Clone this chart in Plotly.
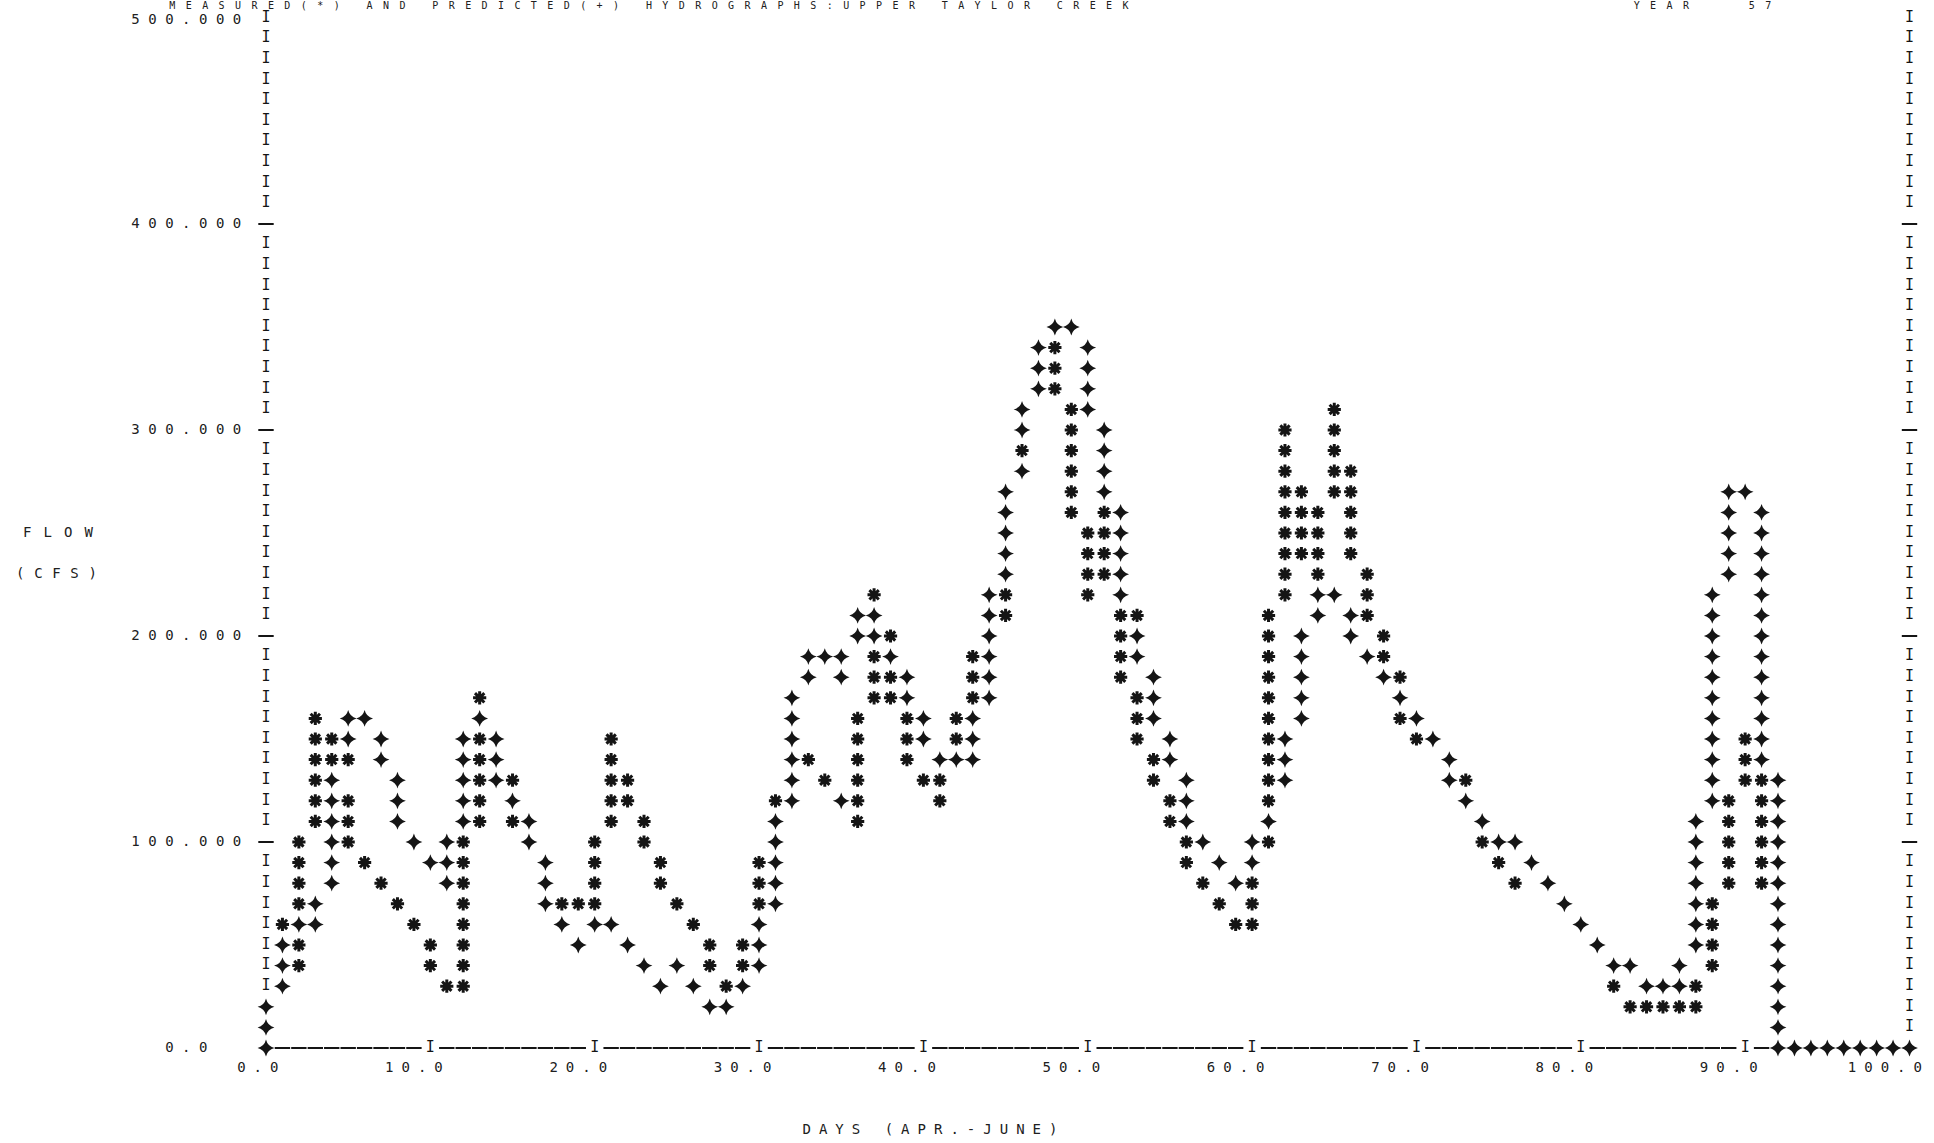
import plotly.graph_objects as go

# Line-printer hydrograph: each day owns one print column, each print row is 10 cfs.
# For every day, the flows (cfs) at which a character was printed.

DAYS = list(range(0, 101))

MEASURED_CFS = [
    [],                                            # 0
    [60],                                          # 1
    [40, 50, 70, 80, 90, 100],                     # 2
    [110, 120, 130, 140, 150, 160],                # 3
    [140, 150],                                    # 4
    [100, 110, 120, 140],                          # 5
    [90],                                          # 6
    [80],                                          # 7
    [70],                                          # 8
    [60],                                          # 9
    [40, 50],                                      # 10
    [30],                                          # 11
    [30, 40, 50, 60, 70, 80, 90, 100],             # 12
    [110, 120, 130, 140, 150, 170],                # 13
    [],                                            # 14
    [110, 130],                                    # 15
    [],                                            # 16
    [],                                            # 17
    [70],                                          # 18
    [70],                                          # 19
    [70, 80, 90, 100],                             # 20
    [110, 120, 130, 140, 150],                     # 21
    [120, 130],                                    # 22
    [100, 110],                                    # 23
    [80, 90],                                      # 24
    [70],                                          # 25
    [60],                                          # 26
    [40, 50],                                      # 27
    [30],                                          # 28
    [40, 50],                                      # 29
    [70, 80, 90],                                  # 30
    [120],                                         # 31
    [],                                            # 32
    [140],                                         # 33
    [130],                                         # 34
    [],                                            # 35
    [110, 120, 130, 140, 150, 160],                # 36
    [170, 180, 190, 220],                          # 37
    [170, 180, 200],                               # 38
    [140, 150, 160],                               # 39
    [130],                                         # 40
    [120, 130],                                    # 41
    [150, 160],                                    # 42
    [170, 180, 190],                               # 43
    [],                                            # 44
    [210, 220],                                    # 45
    [290],                                         # 46
    [],                                            # 47
    [320, 330, 340],                               # 48
    [260, 270, 280, 290, 300, 310],                # 49
    [220, 230, 240, 250],                          # 50
    [230, 240, 250, 260],                          # 51
    [180, 190, 200, 210],                          # 52
    [150, 160, 170, 210],                          # 53
    [130, 140],                                    # 54
    [110, 120],                                    # 55
    [90, 100],                                     # 56
    [80],                                          # 57
    [70],                                          # 58
    [60],                                          # 59
    [60, 70, 80],                                  # 60
    [100, 120, 130, 140, 150, 160, 170, 180, 190, 200, 210],  # 61
    [220, 230, 240, 250, 260, 270, 280, 290, 300], # 62
    [240, 250, 260, 270],                          # 63
    [230, 240, 250, 260],                          # 64
    [270, 280, 290, 300, 310],                     # 65
    [240, 250, 260, 270, 280],                     # 66
    [210, 220, 230],                               # 67
    [190, 200],                                    # 68
    [160, 180],                                    # 69
    [150],                                         # 70
    [],                                            # 71
    [],                                            # 72
    [130],                                         # 73
    [100],                                         # 74
    [90],                                          # 75
    [80],                                          # 76
    [], [], [], [], [],                            # 77-81
    [30],                                          # 82
    [20],                                          # 83
    [20],                                          # 84
    [20],                                          # 85
    [20],                                          # 86
    [20, 30],                                      # 87
    [40, 50, 60, 70],                              # 88
    [80, 90, 100, 110, 120],                       # 89
    [130, 140, 150],                               # 90
    [80, 90, 100, 110, 120, 130],                  # 91
    [], [], [], [], [], [], [], [], [],            # 92-100
]

PREDICTED_CFS = [
    [10, 20],                                      # 0
    [30, 40, 50],                                  # 1
    [60],                                          # 2
    [60, 70],                                      # 3
    [80, 90, 100, 110, 120, 130],                  # 4
    [150, 160],                                    # 5
    [160],                                         # 6
    [140, 150],                                    # 7
    [110, 120, 130],                               # 8
    [100],                                         # 9
    [90],                                          # 10
    [80, 90, 100],                                 # 11
    [110, 120, 130, 140, 150],                     # 12
    [160],                                         # 13
    [130, 140, 150],                               # 14
    [120],                                         # 15
    [100, 110],                                    # 16
    [70, 80, 90],                                  # 17
    [60],                                          # 18
    [50],                                          # 19
    [60],                                          # 20
    [60],                                          # 21
    [50],                                          # 22
    [40],                                          # 23
    [30],                                          # 24
    [40],                                          # 25
    [30],                                          # 26
    [20],                                          # 27
    [20],                                          # 28
    [30],                                          # 29
    [40, 50, 60],                                  # 30
    [70, 80, 90, 100, 110],                        # 31
    [120, 130, 140, 150, 160, 170],                # 32
    [180, 190],                                    # 33
    [190],                                         # 34
    [120, 180, 190],                               # 35
    [200, 210],                                    # 36
    [200, 210],                                    # 37
    [190],                                         # 38
    [170, 180],                                    # 39
    [150, 160],                                    # 40
    [140],                                         # 41
    [140],                                         # 42
    [140, 150, 160],                               # 43
    [170, 180, 190, 200, 210, 220],                # 44
    [230, 240, 250, 260, 270],                     # 45
    [280, 300, 310],                               # 46
    [320, 330, 340],                               # 47
    [350],                                         # 48
    [350],                                         # 49
    [310, 320, 330, 340],                          # 50
    [270, 280, 290, 300],                          # 51
    [220, 230, 240, 250, 260],                     # 52
    [190, 200],                                    # 53
    [160, 170, 180],                               # 54
    [140, 150],                                    # 55
    [110, 120, 130],                               # 56
    [100],                                         # 57
    [90],                                          # 58
    [80],                                          # 59
    [90, 100],                                     # 60
    [110],                                         # 61
    [130, 140, 150],                               # 62
    [160, 170, 180, 190, 200],                     # 63
    [210, 220],                                    # 64
    [220],                                         # 65
    [200, 210],                                    # 66
    [190],                                         # 67
    [180],                                         # 68
    [170],                                         # 69
    [160],                                         # 70
    [150],                                         # 71
    [130, 140],                                    # 72
    [120],                                         # 73
    [110],                                         # 74
    [100],                                         # 75
    [100],                                         # 76
    [90],                                          # 77
    [80],                                          # 78
    [70],                                          # 79
    [60],                                          # 80
    [50],                                          # 81
    [40],                                          # 82
    [40],                                          # 83
    [30],                                          # 84
    [30],                                          # 85
    [30, 40],                                      # 86
    [50, 60, 70, 80, 90, 100, 110],                # 87
    [120, 130, 140, 150, 160, 170, 180, 190, 200, 210, 220],  # 88
    [230, 240, 250, 260, 270],                     # 89
    [270],                                         # 90
    [140, 150, 160, 170, 180, 190, 200, 210, 220, 230, 240, 250, 260],  # 91
    [0, 10, 20, 30, 40, 50, 60, 70, 80, 90, 100, 110, 120, 130],        # 92
    [0], [0], [0], [0], [0], [0], [0], [0],        # 93-100
]

X_TICKS = [0, 10, 20, 30, 40, 50, 60, 70, 80, 90, 100]
X_TICK_LABELS = ["0.0", "10.0", "20.0", "30.0", "40.0", "50.0",
                 "60.0", "70.0", "80.0", "90.0", "100.0"]
Y_TICKS = [0, 100, 200, 300, 400, 500]
Y_TICK_LABELS = ["0.0", "100.000", "200.000", "300.000", "400.000", "500.000"]

TITLE = "MEASURED(*) AND PREDICTED(+) HYDROGRAPHS:UPPER TAYLOR CREEK"
YEAR_TEXT = "YEAR   57"
Y_NAME = ["FLOW", "(CFS)"]
X_NAME = "DAYS (APR.-JUNE)"

INK = "#151515"
ROW = 10  # cfs per print row

# Page geometry of the print grid (pixels)
X0_PX, COL_PX = 266.0, 16.435   # day 0 column, width of one column
Y0_PX, ROW_PX = 1048.0, 20.6    # zero-flow row, height of one 10-cfs row
W_PX, H_PX = 1934, 1143
MONO = "DejaVu Sans Mono"
PX_TO_FLOW = ROW / ROW_PX


def explode(columns):
    xs, ys = [], []
    for day, flows in zip(DAYS, columns):
        for f in flows:
            xs.append(day)
            ys.append(f)
    return xs, ys


mx, my = explode(MEASURED_CFS)
px, py = explode(PREDICTED_CFS)
occupied = set(zip(mx, my)) | set(zip(px, py))

# Printed frame: 'I' columns left and right, dashes along the zero row
frame_i_x, frame_i_y = [], []
frame_dash_x, frame_dash_y = [], []
for col in (0, 100):
    for flow in range(ROW, 500 + ROW, ROW):
        if (col, flow) in occupied:
            continue
        if flow in (100, 200, 300, 400):
            frame_dash_x.append(col)
            frame_dash_y.append(flow)
        else:
            frame_i_x.append(col)
            frame_i_y.append(flow)
for day in range(1, 100):
    if (day, 0) in occupied:
        continue
    if day % 10 == 0:
        frame_i_x.append(day)
        frame_i_y.append(0)
    else:
        frame_dash_x.append(day)
        frame_dash_y.append(0)


# Text is laid out on the same character grid (one column per day, one row per 10 cfs)
def put(store, text, center_col, row_flow, step=1.0):
    start = center_col - step * (len(text) - 1) / 2.0
    for i, ch in enumerate(text):
        if ch != " ":
            store[0].append(start + step * i)
            store[1].append(row_flow)
            store[2].append(ch)


labels = ([], [], [])
for v, lab in zip(Y_TICKS, Y_TICK_LABELS):
    # the top label sits a touch low to leave room for the header line
    row = v - 2.5 * PX_TO_FLOW if v == 500 else v
    put(labels, lab, -4.85, row, step=1.03)
for d, lab in zip(X_TICKS, X_TICK_LABELS):
    put(labels, lab, d + 0.5 - (len(lab) - 1) / 2.0, -10)
put(labels, Y_NAME[0], -12.66, 250, step=1.25)
put(labels, Y_NAME[1], -12.75, 230, step=1.1)
put(labels, X_NAME, 40.4, -40)

# Header line across the top edge of the page
header = ([], [], [])
header_row = (Y0_PX - 6.5) * PX_TO_FLOW
put(header, TITLE, 23.3, header_row)
put(header, YEAR_TEXT, 87.4, header_row)

fig = go.Figure()

fig.add_trace(go.Scatter(
    x=frame_dash_x, y=frame_dash_y, mode="markers",
    marker=dict(symbol="line-ew-open", size=11, line=dict(width=2, color=INK), color=INK),
    hoverinfo="skip", cliponaxis=False))

fig.add_trace(go.Scatter(
    x=frame_i_x, y=frame_i_y, mode="text", text=["I"] * len(frame_i_x),
    textposition="middle center",
    textfont=dict(family=MONO, size=15, color=INK),
    hoverinfo="skip", cliponaxis=False))

fig.add_trace(go.Scatter(
    x=[0], y=[0], mode="markers",
    marker=dict(symbol="star-diamond", size=12, color=INK),
    hoverinfo="skip", cliponaxis=False))

fig.add_trace(go.Scatter(
    x=px, y=py, mode="markers", name="PREDICTED(+)",
    marker=dict(symbol="star-diamond", size=12, color=INK),
    cliponaxis=False))

fig.add_trace(go.Scatter(
    x=mx, y=my, mode="markers", name="MEASURED(*)",
    marker=dict(symbol="asterisk-open", size=11, line=dict(width=3, color=INK), color=INK),
    cliponaxis=False))

fig.add_trace(go.Scatter(
    x=labels[0], y=labels[1], mode="text", text=labels[2], textposition="middle center",
    textfont=dict(family=MONO, size=14, color="#202020"),
    hoverinfo="skip", cliponaxis=False))

fig.add_trace(go.Scatter(
    x=header[0], y=header[1], mode="text", text=header[2], textposition="middle center",
    textfont=dict(family=MONO, size=10, color="#202020"),
    hoverinfo="skip", cliponaxis=False))

# Axis ranges put day d at X0_PX + COL_PX*d and flow f at Y0_PX - ROW_PX*f/10 on the page
fig.update_layout(
    width=W_PX, height=H_PX,
    margin=dict(l=0, r=0, t=0, b=0),
    paper_bgcolor="white", plot_bgcolor="white",
    showlegend=False,
    xaxis=dict(range=[-X0_PX / COL_PX, (W_PX - X0_PX) / COL_PX], visible=False, fixedrange=True),
    yaxis=dict(range=[(Y0_PX - H_PX) * PX_TO_FLOW, Y0_PX * PX_TO_FLOW],
               visible=False, fixedrange=True),
)

fig.write_html("out.html", config={"displayModeBar": False})
